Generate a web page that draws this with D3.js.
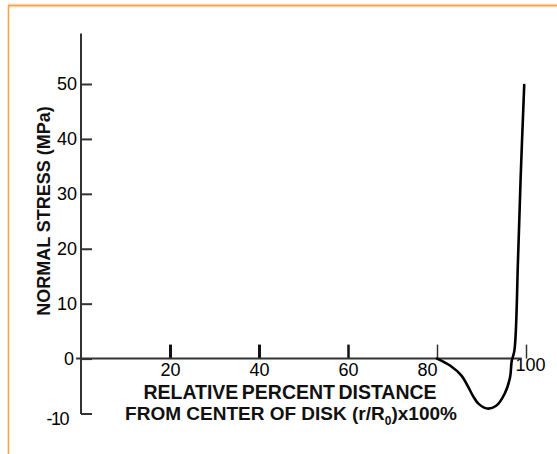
<!DOCTYPE html>
<html>
<head>
<meta charset="utf-8">
<script src="https://cdn.jsdelivr.net/npm/d3@7"></script>
<style>
  body { margin: 0; background: #fff; }
  svg { display: block; font-family: "Liberation Sans", Arial, sans-serif; }
</style>
</head>
<body>
<svg width="557" height="454"></svg>
<script>
// tick values
var xTicks = [20, 40, 60, 80, 100];
var yTicks = [-10, 0, 10, 20, 30, 40, 50];

// normal stress (MPa) along relative distance from disk centre (%)
var distance = [80, 83.0, 85.5, 88.3, 89.3, 91.3, 93.3, 95.2, 96.4, 96.8, 97.4, 98.2, 98.8, 99.6];
var stress   = [0, -1.3, -3.1, -7.1, -8.2, -9.1, -8.6, -6.4, -3.5, -0.4, 1.5, 17.9, 33.0, 49.8];

var data = distance.map((d, i) => ({ x: d, y: stress[i] }));

var svg = d3.select("svg");

// orange frame (top and left edges)
svg.append("line")
    .attr("x1", 8).attr("x2", 557).attr("y1", 5.5).attr("y2", 5.5)
    .attr("stroke", "#fbe3c4").attr("stroke-width", 4);
svg.append("line")
    .attr("x1", 8).attr("x2", 557).attr("y1", 5.5).attr("y2", 5.5)
    .attr("stroke", "#f2a54a").attr("stroke-width", 1.6);
svg.append("line")
    .attr("x1", 8.5).attr("x2", 8.5).attr("y1", 5).attr("y2", 454)
    .attr("stroke", "#f2a54a").attr("stroke-width", 1.6);

var x = d3.scaleLinear().domain([0, 100]).range([81, 526]);
var y = d3.scaleLinear().domain([-10, 50]).range([413.5, 84]);

var axisColor = "#333";

// y axis: ticks point inwards, labels on the left
var gy = svg.append("g")
    .attr("transform", "translate(" + x(0) + ",0)")
    .call(d3.axisLeft(y).tickValues(yTicks).tickFormat(d => String(d))
        .tickSize(-11).tickPadding(4));
gy.select(".domain").remove();
gy.selectAll(".tick line").attr("stroke", axisColor).attr("stroke-width", 2);
gy.selectAll(".tick text")
    .attr("font-size", 18)
    .attr("font-family", "Liberation Sans, Arial, sans-serif")
    .attr("fill", "#000")
    .filter(d => d === -10)
    .attr("x", -13).attr("dy", "0.6em").attr("letter-spacing", -1.5);
gy.selectAll(".tick text").filter(d => d === 0).attr("x", -7);

svg.append("line")
    .attr("x1", x(0)).attr("x2", x(0))
    .attr("y1", y(59.2)).attr("y2", y(-10.1))
    .attr("stroke", axisColor).attr("stroke-width", 2);

// x axis: ticks point upwards, labels below
var gx = svg.append("g")
    .attr("transform", "translate(0," + y(0) + ")")
    .call(d3.axisBottom(x).tickValues(xTicks).tickSize(-14).tickPadding(5));
gx.select(".domain").remove();
gx.selectAll(".tick line")
    .attr("stroke", (d, i) => i < 3 ? "#111" : axisColor)
    .attr("stroke-width", (d, i) => i < 2 ? 3 : (i < 3 ? 2.5 : 1.5));
gx.selectAll(".tick text")
    .attr("font-size", 18)
    .attr("font-family", "Liberation Sans, Arial, sans-serif")
    .attr("fill", "#000");
gx.selectAll(".tick text").filter(d => d === 80).attr("x", -10);
gx.selectAll(".tick text").filter(d => d === 100).attr("x", 4).attr("y", 0);

svg.append("line")
    .attr("x1", x(-1.1)).attr("x2", x(99))
    .attr("y1", y(0)).attr("y2", y(0))
    .attr("stroke", axisColor).attr("stroke-width", 2);

// stress curve
var line = d3.line()
    .x(d => x(d.x))
    .y(d => y(d.y))
    .curve(d3.curveCatmullRom.alpha(0.5));

svg.append("path")
    .datum(data)
    .attr("fill", "none")
    .attr("stroke", "#000")
    .attr("stroke-width", 2.6)
    .attr("stroke-linejoin", "round")
    .attr("stroke-linecap", "round")
    .attr("d", line);

// axis titles
svg.append("text")
    .attr("transform", "translate(44,211) rotate(-90)")
    .attr("text-anchor", "middle")
    .attr("dy", "0.35em")
    .attr("font-size", 18)
    .attr("font-weight", "bold")
    .attr("fill", "#111")
    .text("NORMAL STRESS (MPa)");

svg.append("text")
    .attr("x", 290).attr("y", 392)
    .attr("text-anchor", "middle")
    .attr("dy", "0.35em")
    .attr("font-size", 19.5)
    .attr("font-weight", "bold")
    .attr("fill", "#111")
    .attr("word-spacing", -2)
    .text("RELATIVE PERCENT DISTANCE");

var t2 = svg.append("text")
    .attr("x", 291).attr("y", 413)
    .attr("text-anchor", "middle")
    .attr("dy", "0.35em")
    .attr("font-size", 19)
    .attr("font-weight", "bold")
    .attr("fill", "#111");
t2.append("tspan").text("FROM CENTER OF DISK (r/R");
t2.append("tspan").attr("font-size", 12).attr("dy", 5).text("0");
t2.append("tspan").attr("dy", -5).text(")x100%");
</script>
</body>
</html>
